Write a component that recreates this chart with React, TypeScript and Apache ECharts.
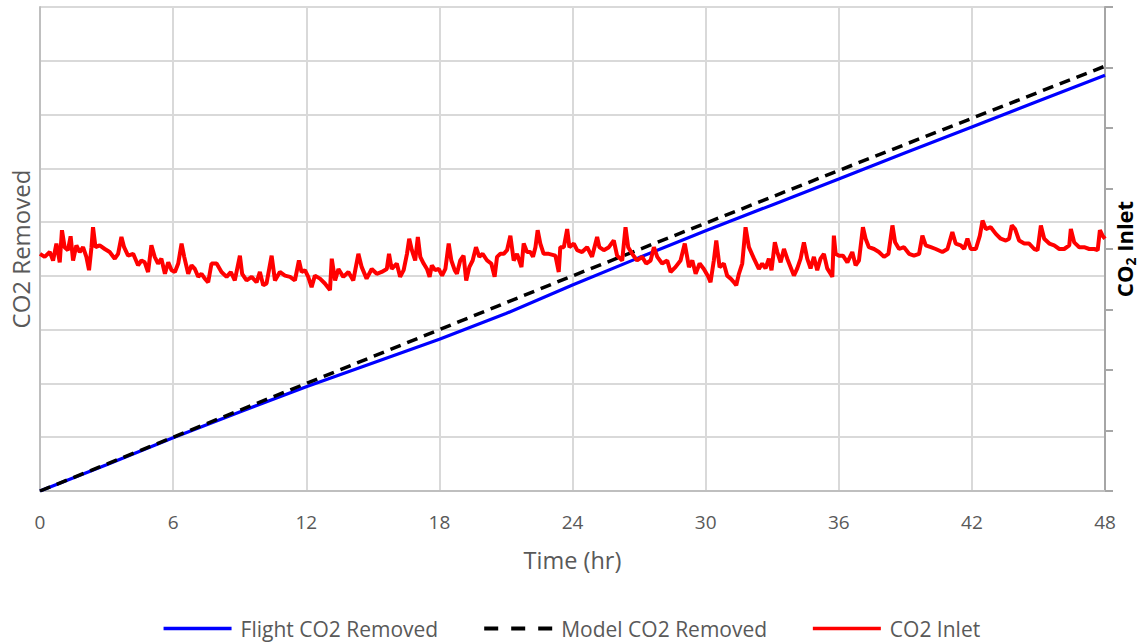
import React, { useEffect, useRef } from "react";
import * as echarts from "echarts";

// Time axis ticks (hr)
const timeMin = 0;
const timeMax = 48;
const timeStep = 6;

// Flight CO2 removed (left axis)
const flightHours = [0, 3, 6, 9, 12, 15, 18, 21, 24, 27, 30, 33, 36, 39, 42, 45, 48];
const flightRemoved = [0, 0.49, 0.99, 1.47, 1.94, 2.38, 2.82, 3.3, 3.83, 4.34, 4.84, 5.32, 5.8, 6.29, 6.77, 7.25, 7.73];

// Model CO2 removed (left axis)
const modelHours = [0, 6, 12, 18, 24, 30, 36, 42, 48];
const modelRemoved = [0, 1.0, 2.0, 3.0, 4.0, 4.98, 5.96, 6.93, 7.9];

// CO2 inlet (right axis)
const inletHours = [
  0, 0.21, 0.44, 0.59, 0.74, 0.89, 0.99, 1.11, 1.26, 1.38, 1.49, 1.64, 1.79, 1.94, 2.09, 2.21, 2.32, 2.39, 2.5, 2.69,
  2.92, 3.14, 3.37, 3.52, 3.67, 3.79, 3.97, 4.2, 4.42, 4.57, 4.72, 4.87, 5.02, 5.17, 5.32, 5.47, 5.63, 5.78, 5.93, 6.08,
  6.23, 6.38, 6.5, 6.68, 6.83, 6.98, 7.13, 7.28, 7.43, 7.58, 7.73, 7.96, 8.18, 8.41, 8.6, 8.78, 9.01, 9.11, 9.31, 9.54,
  9.76, 9.91, 10.06, 10.21, 10.44, 10.59, 10.81, 11.04, 11.27, 11.49, 11.67, 11.79, 11.94, 12.09, 12.24, 12.39, 12.62, 12.84, 13.07, 13.15,
  13.3, 13.45, 13.67, 13.9, 14.12, 14.35, 14.5, 14.72, 14.95, 15.18, 15.4, 15.63, 15.73, 15.85, 16.08, 16.23,
  16.39, 16.54, 16.64, 16.76, 16.91, 17.03, 17.14, 17.29, 17.44, 17.56, 17.66, 17.81, 17.97, 18.12, 18.27, 18.42, 18.54, 18.69, 18.79, 18.94,
  19.09, 19.21, 19.35, 19.5, 19.65, 19.8, 19.95, 20.15, 20.34, 20.49, 20.6, 20.75, 20.9, 21.05, 21.2, 21.35, 21.5, 21.7, 21.8, 21.95,
  22.1, 22.22, 22.33, 22.43, 22.55, 22.7, 22.93, 23.23, 23.38, 23.45, 23.61, 23.76, 23.86, 24.06, 24.21, 24.43, 24.66, 24.88, 25.11, 25.21,
  25.41, 25.64, 25.86, 26.01, 26.24, 26.39, 26.51, 26.69, 26.91, 27.14, 27.32, 27.52, 27.67, 27.82, 28.04, 28.27, 28.42, 28.64, 28.87, 29.06,
  29.25, 29.4, 29.55, 29.73, 29.92, 30.12, 30.22, 30.37, 30.48, 30.63, 30.82, 30.97, 31.13, 31.28, 31.38, 31.5, 31.65, 31.8, 31.95, 32.18, 32.4,
  32.55, 32.7, 32.85, 32.97, 33.12, 33.23, 33.38, 33.53, 33.68, 33.83, 33.98, 34.13, 34.28, 34.43, 34.58, 34.73, 34.88, 35.03, 35.18, 35.33,
  35.48, 35.63, 35.71, 35.78, 35.86, 36.01, 36.19, 36.39, 36.61, 36.76, 36.91, 37.09, 37.21, 37.36, 37.59, 37.81, 38.04, 38.24, 38.42, 38.54,
  38.72, 38.94, 39.17, 39.39, 39.62, 39.77, 39.92, 40.15, 40.37, 40.67, 40.9, 41.12, 41.27, 41.5, 41.65, 41.8, 41.95, 42.18, 42.36, 42.48,
  42.63, 42.85, 43.08, 43.3, 43.53, 43.68, 43.8, 43.95, 44.13, 44.36, 44.58, 44.81, 44.96, 45.11, 45.26, 45.49, 45.71, 45.94, 46.16, 46.39,
  46.46, 46.61, 46.84, 47.06, 47.29, 47.52, 47.67, 47.77, 47.89, 48,
];
const inletCO2 = [
  3.92, 3.87, 3.95, 3.81, 4.09, 3.78, 4.31, 4.03, 3.98, 4.21, 3.81, 4.06, 3.95, 4.03, 3.87, 3.65, 4.03, 4.36, 4.03, 4.06,
  4.0, 3.95, 3.84, 3.92, 4.2, 4.03, 3.89, 3.92, 3.73, 3.81, 3.78, 3.62, 4.06, 3.87, 3.76, 3.84, 3.59, 3.78, 3.65, 3.62,
  3.76, 4.09, 3.87, 3.59, 3.73, 3.67, 3.54, 3.59, 3.51, 3.45, 3.76, 3.76, 3.62, 3.54, 3.62, 3.48, 3.89, 3.59, 3.48, 3.54,
  3.45, 3.62, 3.4, 3.43, 3.89, 3.48, 3.62, 3.56, 3.54, 3.48, 3.81, 3.62, 3.65, 3.54, 3.37, 3.56, 3.51, 3.43, 3.32, 3.84,
  3.48, 3.67, 3.54, 3.62, 3.48, 3.92, 3.7, 3.51, 3.67, 3.59, 3.62, 3.67, 3.92, 3.67, 3.76, 3.54,
  3.65, 3.92, 4.17, 3.98, 3.81, 4.2, 3.87, 3.76, 3.67, 3.54, 3.73, 3.65, 3.67, 3.56, 3.67, 4.09, 3.81, 3.65, 3.59, 3.81,
  3.89, 3.48, 3.7, 3.81, 4.03, 3.87, 3.92, 3.81, 3.76, 3.54, 3.87, 3.92, 3.92, 3.98, 4.22, 3.81, 3.92, 3.7, 4.09, 3.95,
  3.95, 3.87, 4.03, 4.31, 4.09, 3.92, 3.92, 3.89, 3.62, 4.03, 4.03, 4.33, 4.03, 4.09, 3.98, 3.95, 4.03, 3.87, 4.2, 4.03,
  3.98, 4.03, 4.14, 3.89, 3.81, 4.36, 4.03, 3.92, 3.81, 3.87, 3.76, 3.81, 4.03, 3.87, 3.76, 3.81, 3.62, 3.7, 3.81, 4.09,
  3.7, 3.81, 3.59, 3.76, 3.67, 3.54, 3.45, 3.81, 4.14, 3.7, 3.76, 3.56, 3.51, 3.45, 3.4, 3.59, 3.76, 4.36, 4.03, 3.84, 3.67,
  3.76, 3.68, 3.84, 3.65, 4.11, 3.95, 3.78, 4.0, 3.84, 3.7, 3.56, 3.68, 3.84, 4.11, 3.84, 3.68, 3.87, 3.65, 3.84, 3.92,
  3.68, 3.59, 3.54, 4.22, 3.92, 3.89, 3.89, 3.78, 3.95, 3.73, 3.81, 4.36, 4.17, 4.03, 4.0, 3.95, 3.87, 3.92, 4.39, 4.11,
  4.0, 4.03, 3.92, 3.89, 3.92, 4.22, 4.06, 4.03, 4.0, 3.95, 4.0, 4.28, 4.09, 4.06, 4.0, 4.17, 4.0, 4.0, 4.22, 4.47,
  4.33, 4.36, 4.25, 4.17, 4.14, 4.17, 4.39, 4.33, 4.14, 4.09, 4.09, 4.0, 3.98, 4.39, 4.17, 4.09, 4.06, 4.0, 4.0, 4.06,
  4.33, 4.11, 4.03, 4.03, 4.0, 4.0, 3.98, 4.31, 4.22, 4.17,
];

const seriesNames = ["Flight CO2 Removed", "Model CO2 Removed", "CO2 Inlet"];

const zip = (xs: number[], ys: number[]) => xs.map((x, i) => [x, ys[i]]);

const FONT = "'Open Sans', sans-serif";

export default function App() {
  const ref = useRef<HTMLDivElement>(null);

  useEffect(() => {
    if (!ref.current) return;
    const chart = echarts.init(ref.current, undefined, { renderer: "svg" });
    chart.setOption({
      animation: false,
      backgroundColor: "#ffffff",
      textStyle: { fontFamily: FONT },
      grid: { left: 40, right: 37, top: 7, bottom: 153, containLabel: false, outerBoundsMode: "none" },
      legend: {
        bottom: 0,
        left: "center",
        itemWidth: 68,
        itemHeight: 10,
        itemGap: 44,
        itemStyle: { opacity: 0 },
        lineStyle: { width: 3.5 },
        textStyle: { color: "#595959", fontSize: 21, fontFamily: FONT, padding: [0, 0, 0, 4] },
        data: [
          { name: seriesNames[0] },
          { name: seriesNames[1], lineStyle: { width: 4, type: [14, 13] } },
          { name: seriesNames[2] },
        ],
      },
      xAxis: {
        type: "value",
        min: timeMin,
        max: timeMax,
        interval: timeStep,
        name: "Time (hr)",
        nameLocation: "middle",
        nameGap: 57,
        nameTextStyle: { color: "#595959", fontSize: 23.5, fontFamily: FONT },
        axisLine: { show: true, lineStyle: { color: "#bfbfbf", width: 2 } },
        axisTick: { show: false },
        axisLabel: { color: "#595959", fontSize: 19, margin: 21, fontFamily: FONT },
        splitLine: { show: true, lineStyle: { color: "#d9d9d9", width: 2 } },
      },
      yAxis: [
        {
          type: "value",
          min: 0,
          max: 9,
          interval: 1,
          position: "left",
          name: "CO2 Removed",
          nameLocation: "middle",
          nameGap: 8,
          nameTextStyle: { color: "#595959", fontSize: 24, fontFamily: FONT },
          axisLine: { show: true, lineStyle: { color: "#bfbfbf", width: 2 } },
          axisTick: { show: false },
          axisLabel: { show: false },
          splitLine: { show: true, lineStyle: { color: "#d9d9d9", width: 2 } },
        },
        {
          type: "value",
          min: 0,
          max: 8,
          interval: 1,
          position: "right",
          name: "{a|CO}{b|2}{a| Inlet}",
          nameLocation: "middle",
          nameGap: 6,
          nameTextStyle: {
            color: "#000000",
            fontFamily: FONT,
            rich: {
              a: { fontSize: 22, fontWeight: "bold", color: "#000", fontFamily: FONT, lineHeight: 26, verticalAlign: "middle" },
              b: { fontSize: 14, fontWeight: "bold", color: "#000", fontFamily: FONT, lineHeight: 26, verticalAlign: "bottom" },
            },
          },
          axisLine: { show: true, lineStyle: { color: "#a6a6a6", width: 2 } },
          axisTick: { show: true, inside: false, length: 8, lineStyle: { color: "#a6a6a6", width: 2 } },
          axisLabel: { show: false },
          splitLine: { show: false },
        },
      ],
      series: [
        {
          name: seriesNames[0],
          type: "line",
          yAxisIndex: 0,
          symbol: "none",
          data: zip(flightHours, flightRemoved),
          lineStyle: { color: "#0000ff", width: 3.2 },
          itemStyle: { color: "#0000ff" },
        },
        {
          name: seriesNames[1],
          type: "line",
          yAxisIndex: 0,
          symbol: "none",
          data: zip(modelHours, modelRemoved),
          lineStyle: { color: "#000000", width: 3.5, type: [11, 7] },
          itemStyle: { color: "#000000" },
        },
        {
          name: seriesNames[2],
          type: "line",
          yAxisIndex: 1,
          symbol: "none",
          data: zip(inletHours, inletCO2),
          lineStyle: { color: "#ff0000", width: 4 },
          itemStyle: { color: "#ff0000" },
        },
      ],
    });
    return () => chart.dispose();
  }, []);

  return (
    <div
      ref={ref}
      style={{ position: "absolute", left: 0, top: 0, width: 1142, height: 644, background: "#fff" }}
    />
  );
}
